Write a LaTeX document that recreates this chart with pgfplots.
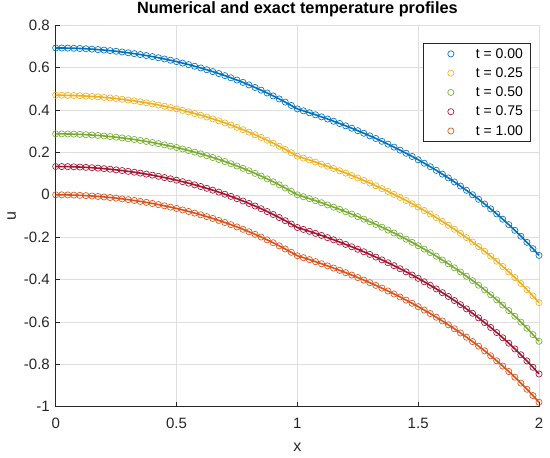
\documentclass[border=0pt]{standalone}
\usepackage{pgfplots}
\usepackage{pgfplotstable}
\pgfplotsset{compat=1.18}
\usepackage{fontspec}
\setmainfont{Liberation Sans}
\definecolor{mblue}{rgb}{0,0.447,0.741}
\definecolor{myellow}{rgb}{0.929,0.694,0.125}
\definecolor{mgreen}{rgb}{0.466,0.674,0.188}
\definecolor{mred}{rgb}{0.635,0.078,0.184}
\definecolor{morange}{rgb}{0.85,0.325,0.098}
\definecolor{axgray}{rgb}{0.15,0.15,0.15}
\definecolor{gridgray}{rgb}{0.87,0.87,0.87}
\pgfplotstableread{
x f a b c d
0.000 0.0000 0.6931 0.4700 0.2877 0.1335
0.025 -0.0002 0.6929 0.4698 0.2875 0.1333
0.050 -0.0006 0.6925 0.4694 0.2871 0.1329
0.075 -0.0014 0.6917 0.4686 0.2863 0.1321
0.100 -0.0025 0.6906 0.4675 0.2852 0.1310
0.125 -0.0039 0.6892 0.4661 0.2838 0.1296
0.150 -0.0056 0.6875 0.4644 0.2821 0.1279
0.175 -0.0077 0.6854 0.4623 0.2800 0.1258
0.200 -0.0101 0.6830 0.4599 0.2776 0.1234
0.225 -0.0127 0.6804 0.4573 0.2750 0.1208
0.250 -0.0157 0.6774 0.4543 0.2720 0.1178
0.275 -0.0191 0.6740 0.4509 0.2686 0.1144
0.300 -0.0228 0.6703 0.4472 0.2649 0.1107
0.325 -0.0268 0.6663 0.4432 0.2609 0.1067
0.350 -0.0311 0.6620 0.4389 0.2566 0.1024
0.375 -0.0358 0.6573 0.4342 0.2519 0.0977
0.400 -0.0408 0.6523 0.4292 0.2469 0.0927
0.425 -0.0462 0.6469 0.4238 0.2415 0.0873
0.450 -0.0520 0.6411 0.4180 0.2357 0.0815
0.475 -0.0581 0.6350 0.4119 0.2296 0.0754
0.500 -0.0645 0.6286 0.4055 0.2232 0.0690
0.525 -0.0714 0.6217 0.3986 0.2163 0.0621
0.550 -0.0786 0.6145 0.3914 0.2091 0.0549
0.575 -0.0863 0.6068 0.3837 0.2014 0.0472
0.600 -0.0943 0.5988 0.3757 0.1934 0.0392
0.625 -0.1028 0.5903 0.3672 0.1849 0.0307
0.650 -0.1116 0.5815 0.3584 0.1761 0.0219
0.675 -0.1209 0.5722 0.3491 0.1668 0.0126
0.700 -0.1307 0.5624 0.3393 0.1570 0.0028
0.725 -0.1409 0.5522 0.3291 0.1468 -0.0074
0.750 -0.1516 0.5415 0.3184 0.1361 -0.0181
0.775 -0.1627 0.5304 0.3073 0.1250 -0.0292
0.800 -0.1744 0.5187 0.2956 0.1133 -0.0409
0.825 -0.1865 0.5066 0.2835 0.1012 -0.0530
0.850 -0.1992 0.4939 0.2708 0.0885 -0.0657
0.875 -0.2125 0.4806 0.2575 0.0752 -0.0790
0.900 -0.2263 0.4668 0.2437 0.0614 -0.0928
0.925 -0.2407 0.4524 0.2293 0.0470 -0.1072
0.950 -0.2557 0.4374 0.2143 0.0320 -0.1222
0.975 -0.2714 0.4217 0.1986 0.0163 -0.1379
1.000 -0.2877 0.4054 0.1823 0.0000 -0.1542
1.025 -0.2967 0.3964 0.1733 -0.0090 -0.1632
1.050 -0.3059 0.3872 0.1641 -0.0182 -0.1724
1.075 -0.3155 0.3776 0.1545 -0.0278 -0.1820
1.100 -0.3253 0.3678 0.1447 -0.0376 -0.1918
1.125 -0.3354 0.3577 0.1346 -0.0477 -0.2019
1.150 -0.3458 0.3473 0.1242 -0.0581 -0.2123
1.175 -0.3565 0.3366 0.1135 -0.0688 -0.2230
1.200 -0.3675 0.3256 0.1025 -0.0798 -0.2340
1.225 -0.3788 0.3143 0.0912 -0.0911 -0.2453
1.250 -0.3905 0.3026 0.0795 -0.1028 -0.2570
1.275 -0.4025 0.2906 0.0675 -0.1148 -0.2690
1.300 -0.4148 0.2783 0.0552 -0.1271 -0.2813
1.325 -0.4275 0.2656 0.0425 -0.1398 -0.2940
1.350 -0.4406 0.2525 0.0294 -0.1529 -0.3071
1.375 -0.4541 0.2390 0.0159 -0.1664 -0.3206
1.400 -0.4680 0.2251 0.0020 -0.1803 -0.3345
1.425 -0.4823 0.2108 -0.0123 -0.1946 -0.3488
1.450 -0.4970 0.1961 -0.0270 -0.2093 -0.3635
1.475 -0.5121 0.1810 -0.0421 -0.2244 -0.3786
1.500 -0.5278 0.1653 -0.0578 -0.2401 -0.3943
1.525 -0.5439 0.1492 -0.0739 -0.2562 -0.4104
1.550 -0.5605 0.1326 -0.0905 -0.2728 -0.4270
1.575 -0.5776 0.1155 -0.1076 -0.2899 -0.4441
1.600 -0.5953 0.0978 -0.1253 -0.3076 -0.4618
1.625 -0.6135 0.0796 -0.1435 -0.3258 -0.4800
1.650 -0.6324 0.0607 -0.1624 -0.3447 -0.4989
1.675 -0.6518 0.0413 -0.1818 -0.3641 -0.5183
1.700 -0.6719 0.0212 -0.2019 -0.3842 -0.5384
1.725 -0.6927 0.0004 -0.2227 -0.4050 -0.5592
1.750 -0.7142 -0.0211 -0.2442 -0.4265 -0.5807
1.775 -0.7365 -0.0434 -0.2665 -0.4488 -0.6030
1.800 -0.7595 -0.0664 -0.2895 -0.4718 -0.6260
1.825 -0.7834 -0.0903 -0.3134 -0.4957 -0.6499
1.850 -0.8082 -0.1151 -0.3382 -0.5205 -0.6747
1.875 -0.8339 -0.1408 -0.3639 -0.5462 -0.7004
1.900 -0.8607 -0.1676 -0.3907 -0.5730 -0.7272
1.925 -0.8885 -0.1954 -0.4185 -0.6008 -0.7550
1.950 -0.9174 -0.2243 -0.4474 -0.6297 -0.7839
1.975 -0.9475 -0.2544 -0.4775 -0.6598 -0.8140
2.000 -0.9790 -0.2859 -0.5090 -0.6913 -0.8455
}\data
\begin{document}
\begin{tikzpicture}
\useasboundingbox (0,0) rectangle (550pt,458pt);
\begin{axis}[
  at={(55.7pt,51.3pt)}, anchor=south west,
  scale only axis, width=483.3pt, height=381.4pt,
  xmin=0, xmax=2, ymin=-1, ymax=0.8,
  clip=false,
  axis x line*=bottom, axis y line*=left,
  axis line style={draw=axgray, line width=0.8pt},
  xtick={0,0.5,1,1.5,2}, xticklabels={0,0.5,1,1.5,2},
  ytick={-1,-0.8,-0.6,-0.4,-0.2,0,0.2,0.4,0.6,0.8},
  yticklabels={-1,-0.8,-0.6,-0.4,-0.2,0,0.2,0.4,0.6,0.8},
  /pgf/number format/assume math mode=true,
  tick align=inside, major tick length=4.5pt,
  tick style={draw=axgray, line width=0.8pt},
  grid=major, major grid style={draw=gridgray, line width=0.6pt},
  ticklabel style={font=\fontsize{15}{18}\selectfont, text=axgray},
  xticklabel style={anchor=center, inner sep=0pt, yshift=-16.5pt},
  yticklabel style={anchor=east, inner sep=0pt, xshift=-5.7pt},
  xlabel={x}, ylabel={u},
  label style={font=\fontsize{16}{19}\selectfont, text=axgray},
  xlabel style={at={(axis description cs:0.5,-0.1057)}, anchor=center, inner sep=0pt},
  ylabel style={at={(axis description cs:-0.091,0.5)}, anchor=center, inner sep=0pt},
  title={Numerical and exact temperature profiles},
  title style={font=\bfseries\fontsize{16.3}{19}\selectfont, at={(axis description cs:0.5,1)}, anchor=base, yshift=5.3pt, inner sep=0pt},
  legend cell align=left,
  legend image code/.code={\path[draw=none,fill=none] (0pt,-5pt) rectangle (40.6pt,5pt); \draw[#1] plot coordinates {(20.3pt,0pt)};},
  legend style={at={(axis description cs:1,1)}, anchor=north east, xshift=-8.7pt, yshift=-17.4pt,
    draw=axgray, line width=0.7pt, fill=white, font=\fontsize{14}{16}\selectfont,
    inner xsep=7pt, inner ysep=5.2pt, row sep=8pt, column sep=4.7pt,
    nodes={inner sep=0pt, text=black}},
]
\addplot[only marks, mark=o, mark size=3.1pt, color=mblue, mark options={line width=0.65pt}] table[x=x,y=a] {\data};
\addlegendentry{t = 0.00}
\addplot[only marks, mark=o, mark size=3.1pt, color=myellow, mark options={line width=0.65pt}] table[x=x,y=b] {\data};
\addlegendentry{t = 0.25}
\addplot[only marks, mark=o, mark size=3.1pt, color=mgreen, mark options={line width=0.65pt}] table[x=x,y=c] {\data};
\addlegendentry{t = 0.50}
\addplot[only marks, mark=o, mark size=3.1pt, color=mred, mark options={line width=0.65pt}] table[x=x,y=d] {\data};
\addlegendentry{t = 0.75}
\addplot[only marks, mark=o, mark size=3.1pt, color=morange, mark options={line width=0.65pt}] table[x=x,y=f] {\data};
\addlegendentry{t = 1.00}
\addplot[forget plot, no marks, color=mblue, line width=1.6pt] table[x=x,y=a] {\data};
\addplot[forget plot, no marks, color=myellow, line width=1.6pt] table[x=x,y=b] {\data};
\addplot[forget plot, no marks, color=mgreen, line width=1.6pt] table[x=x,y=c] {\data};
\addplot[forget plot, no marks, color=mred, line width=1.6pt] table[x=x,y=d] {\data};
\addplot[forget plot, no marks, color=morange, line width=1.6pt] table[x=x,y=f] {\data};
\end{axis}
\end{tikzpicture}
\end{document}
